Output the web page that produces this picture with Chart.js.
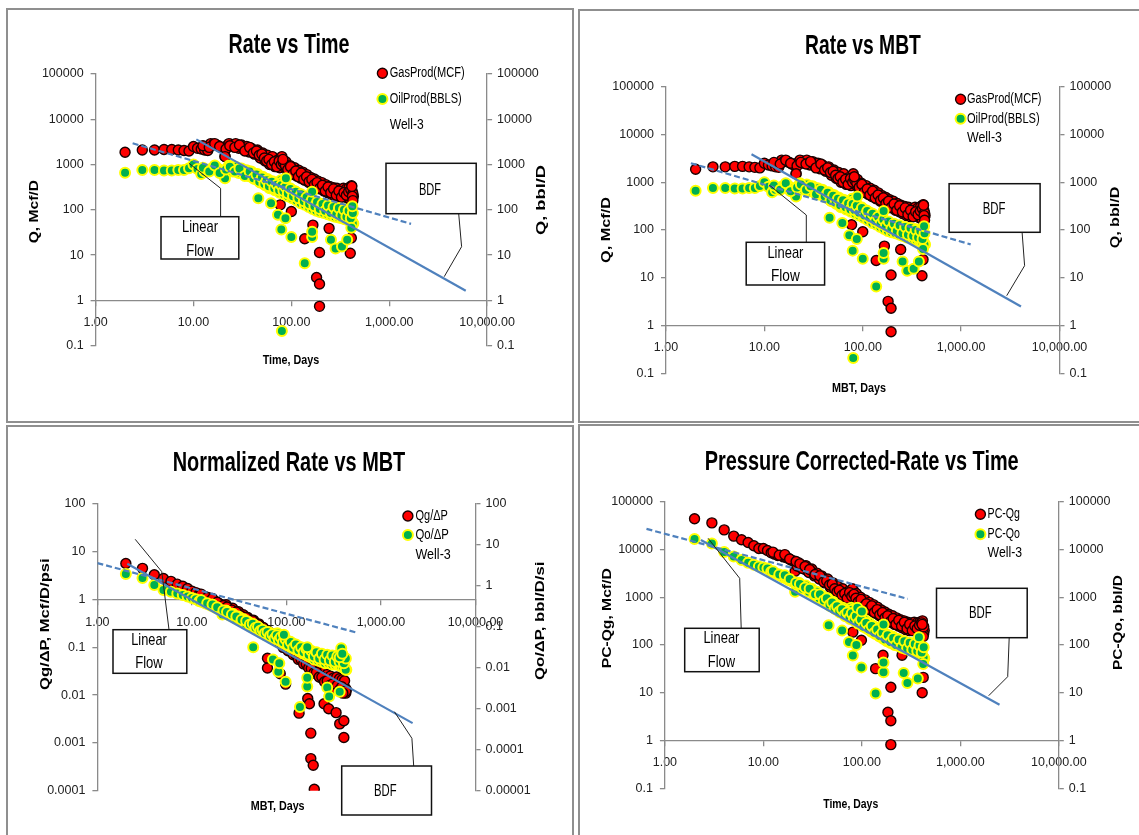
<!DOCTYPE html>
<html>
<head>
<meta charset="utf-8">
<title>Well-3 rate plots</title>
<script src="https://cdn.jsdelivr.net/npm/chart.js@4.4.1/dist/chart.umd.min.js"></script>
<style>
  html, body { margin: 0; padding: 0; background: #fff; }
  body { position: relative; width: 1139px; height: 835px; overflow: hidden; }
  canvas { position: absolute; }
  .frame { position: absolute; box-sizing: border-box; border: 2px solid #8f8f8f; }
</style>
</head>
<body>
<div class="frame" style="left:6px;top:8px;width:568px;height:415px"></div>
<div class="frame" style="left:578px;top:9px;width:600px;height:414px"></div>
<div class="frame" style="left:6px;top:425px;width:568px;height:420px"></div>
<div class="frame" style="left:578px;top:424px;width:600px;height:420px"></div>

<canvas id="rateTime" width="568" height="413" style="left:6px;top:9px"></canvas>
<canvas id="rateMbt" width="561" height="413" style="left:578px;top:10px"></canvas>
<canvas id="normMbt" width="568" height="409" style="left:6px;top:426px"></canvas>
<canvas id="pcTime" width="561" height="410" style="left:578px;top:425px"></canvas>

<script>
// ---------- data ----------
// days on production (also used as MBT, the two plots read the same)
const days = [2,3,4,5,6,7,8,9,10,11,12,13,14,15,16,17,18,19,20,21,22,24,26,28,30,32,34,36,38,40,
  43,46,49,52,55,58,62,66,70,74,78,82,86,90,95,100,105,110,116,122,128,134,140,147,154,161,168,
  176,184,192,200,210,220,230,240,250,262,274,286,298,310,322,334,346,358,370,382,394,406,418,430];
const days2 = [23,25,27,29,31,33,35,37,39,42,45,48,51,54,57,60,64,68,72,76,80,84,88,92,97,102,108,
  113,119,125,131,137,144,151,158,165,172,180,188,196,205,215,225,235,245,256,268,280,292,304,316,
  328,340,352,364,376,388,400,412,424];
const days3 = [12.5,14.5,16.5,18.5,21.5,23.5,26.5,29.5,33.5,37.5,41,44,47,50,53,56,59,63,67,71,75,
  79,83,87,92,98,104,111,118,126,134,143,152,162,172,183,195,208,222,237,253,270,288,306,325,345,
  365,385,405,425];

// rate, Mcf/D and bbl/D
const gasRate = [1870,2100,2100,2150,2150,2100,2050,2000,2500,2300,2200,2100,2050,2900,2800,2700,2600,
  2400,2300,1500,2600,2800,2700,2600,2500,2400,2300,2200,2100,2000,1900,1700,1500,1300,1400,1200,1100,
  1300,1000,1100,1300,1250,1000,850,800,750,700,650,620,600,560,520,480,460,450,420,400,380,350,330,
  320,300,290,280,270,260,250,240,230,230,220,210,250,270,240,230,280,300,320,260,200];
const oilRate = [660,760,760,740,740,760,760,830,1000,800,620,700,750,800,850,900,800,750,700,500,
  800,850,800,750,700,680,650,620,600,560,520,480,450,430,400,380,350,400,320,300,450,380,300,280,
  260,250,240,230,210,200,180,170,160,155,150,140,130,125,120,115,110,105,100,95,92,90,88,85,82,80,
  78,76,90,85,75,80,70,65,60,55,50];
const gasRate2 = [2900,2500,2900,2300,2700,2100,2500,1900,2300,1700,2100,1400,1800,1200,1600,1000,
  1500,900,1250,850,1500,900,1150,700,950,620,850,560,750,500,680,450,600,400,520,350,480,320,430,290,
  400,260,360,240,330,220,310,200,300,190,280,200,300,210,290,180,310,170,340,180];
const oilRate2 = [950,700,900,650,820,600,750,550,700,480,620,400,540,350,480,300,430,270,380,240,
  400,220,330,200,300,180,260,160,230,140,200,130,180,115,160,105,150,95,140,90,130,85,120,80,115,
  75,110,70,105,68,100,65,105,62,100,60,95,55,90,50];
const gasRate3 = [2600,2400,2900,2500,2200,2600,2400,2700,2000,2400,1800,2000,1600,1700,1400,1200,
  1300,1000,1150,900,1200,1000,1100,950,780,900,620,720,540,650,470,540,420,470,360,400,300,350,260,
  320,240,290,210,260,190,240,210,250,280,230];
const oilRate3 = [850,700,950,650,780,900,700,820,560,700,500,600,420,520,370,450,330,420,300,360,
  270,350,260,320,230,290,200,250,180,220,155,190,135,165,120,150,105,135,95,125,85,115,80,110,75,
  100,70,95,65,85];
const gasOutDays = [21,77,82,100,137,166,194,181,194,194,243,400,410,420,415,425];
const gasOutRate = [1500,129,1300,92,23,46,11.4,3.2,2.3,0.74,39,11,24,200,330,160];
const oilOutDays = [46,62,73,87,79,100,137,163,163,163,254,283,329,372,80,420,88,410];
const oilOutRate = [180,140,78,65,37,25,6.6,250,25,33,22,14,15.5,22,0.21,120,500,40];

// normalized rate, Mcf/D/psi (left) and bbl/D/psi (right)
const normGas = [5.7,4.5,3.3,2.75,2.4,2.1,1.9,1.7,1.5,1.4,1.3,1.2,1.15,1.1,1.0,0.95,0.9,0.85,0.8,0.6,
  0.72,0.66,0.6,0.56,0.52,0.49,0.46,0.43,0.4,0.38,0.35,0.32,0.29,0.26,0.24,0.22,0.2,0.19,0.17,0.16,
  0.17,0.15,0.14,0.13,0.125,0.12,0.11,0.1,0.09,0.082,0.075,0.07,0.065,0.06,0.055,0.05,0.046,0.042,
  0.039,0.036,0.034,0.031,0.029,0.027,0.025,0.024,0.022,0.021,0.02,0.019,0.018,0.017,0.02,0.019,
  0.017,0.016,0.018,0.017,0.015,0.014,0.013];
const normOil = [1.96,1.57,1.05,0.8,0.72,0.65,0.6,0.55,0.51,0.47,0.42,0.4,0.37,0.35,0.33,0.31,0.29,
  0.27,0.26,0.2,0.23,0.21,0.2,0.19,0.175,0.16,0.15,0.14,0.13,0.12,0.11,0.1,0.09,0.085,0.08,0.075,0.07,
  0.072,0.06,0.055,0.06,0.052,0.048,0.045,0.043,0.041,0.038,0.036,0.034,0.032,0.03,0.028,0.026,0.025,
  0.024,0.023,0.022,0.021,0.019,0.018,0.0175,0.017,0.016,0.016,0.015,0.015,0.014,0.014,0.014,0.014,
  0.013,0.013,0.018,0.016,0.013,0.015,0.012,0.011,0.01,0.0095,0.009];
const normGas2 = [0.78,0.6,0.66,0.5,0.56,0.44,0.48,0.38,0.42,0.33,0.37,0.28,0.31,0.23,0.26,0.2,0.22,
  0.16,0.19,0.14,0.18,0.13,0.15,0.11,0.13,0.095,0.11,0.08,0.095,0.068,0.08,0.058,0.068,0.05,0.058,
  0.042,0.05,0.036,0.044,0.031,0.04,0.027,0.034,0.023,0.03,0.02,0.027,0.018,0.025,0.016,0.023,0.015,
  0.024,0.014,0.022,0.013,0.021,0.012,0.02,0.011];
const normOil2 = [0.25,0.19,0.21,0.16,0.18,0.14,0.155,0.12,0.135,0.1,0.115,0.085,0.095,0.072,0.08,
  0.062,0.075,0.055,0.066,0.05,0.07,0.046,0.058,0.04,0.05,0.035,0.044,0.031,0.038,0.028,0.034,0.025,
  0.031,0.022,0.028,0.02,0.026,0.018,0.024,0.016,0.022,0.015,0.021,0.014,0.02,0.013,0.019,0.013,0.019,
  0.012,0.018,0.012,0.02,0.012,0.019,0.011,0.017,0.01,0.016,0.009];
const normGas3 = [1.3,1.1,1.05,0.88,0.75,0.7,0.6,0.55,0.45,0.42,0.35,0.36,0.3,0.3,0.25,0.24,0.21,0.19,
  0.17,0.15,0.15,0.14,0.13,0.12,0.1,0.1,0.085,0.085,0.07,0.07,0.056,0.056,0.045,0.045,0.037,0.036,
  0.029,0.03,0.024,0.024,0.019,0.02,0.016,0.017,0.014,0.016,0.013,0.015,0.012,0.012];
const normOil3 = [0.45,0.38,0.35,0.3,0.25,0.23,0.2,0.18,0.15,0.14,0.115,0.12,0.095,0.1,0.08,0.085,0.07,
  0.075,0.06,0.066,0.052,0.062,0.048,0.056,0.042,0.05,0.036,0.043,0.031,0.037,0.027,0.032,0.024,0.029,
  0.021,0.026,0.019,0.024,0.017,0.022,0.016,0.021,0.015,0.02,0.014,0.019,0.014,0.018,0.013,0.017];
const normGasOutDays = [63,63,86,98,136,181,181,192,197,168,175,250,280,335,366,405,405,395];
const normGasOut = [0.059,0.037,0.028,0.017,0.0042,0.0016,0.00047,0.00034,0.000107,0.0085,0.0066,
  0.0066,0.0052,0.0043,0.0025,0.0029,0.0013,0.011];
const normOilOutDays = [44.5,72,82,84,98,139,166,166,166,270,283,366,366,94,380,390];
const normOilOut = [0.032,0.016,0.008,0.013,0.0046,0.0011,0.032,0.0035,0.0057,0.0033,0.002,0.018,
  0.0026,0.064,0.03,0.022];

// pressure corrected rate
const pcGas = [44000,36000,25700,19000,16000,14000,12000,10500,10500,9500,8500,8000,7500,7500,7000,
  6800,6500,6000,5800,3500,4500,4200,3900,3600,3300,3100,2900,2700,2500,2300,2100,1900,1700,1500,1500,
  1300,1200,1300,1000,1100,1300,1400,1100,950,900,850,780,700,650,620,580,540,500,470,450,420,400,380,
  350,330,320,300,290,280,270,260,250,240,240,230,220,210,250,260,240,230,270,290,280,250,200];
const pcOil = [16500,13300,8900,7100,6000,5300,4800,4400,4200,4000,3400,3200,3000,2800,2600,2500,2300,
  2200,2100,1300,1800,1700,1600,1500,1350,1250,1150,1050,1000,930,850,780,700,650,600,560,520,560,450,
  420,600,520,400,360,340,310,290,270,250,235,220,205,190,180,170,160,150,140,130,125,118,110,105,100,
  97,93,90,87,84,82,80,78,92,88,76,80,72,66,62,56,52];
const pcGas2 = [5200,4000,4600,3300,3900,2800,3200,2400,2800,2000,2400,1600,2000,1350,1700,1100,1500,
  950,1300,850,1500,950,1200,750,1000,650,880,580,780,520,700,460,620,410,540,360,490,330,440,300,410,
  270,370,250,340,230,320,210,300,200,290,210,300,220,290,190,300,180,320,170];
const pcOil2 = [2000,1500,1750,1300,1500,1100,1300,950,1100,800,950,650,800,560,680,480,600,400,520,
  350,550,320,450,280,380,250,330,220,290,190,250,170,220,150,195,135,175,120,160,110,150,100,135,95,
  125,88,118,82,110,78,105,75,110,72,100,68,95,62,88,55];
const pcGas3 = [8800,7600,7800,6300,5600,5000,4400,3800,3000,2800,2100,2200,1800,1900,1500,1300,1400,
  1100,1200,950,1250,1050,1150,950,800,900,640,730,560,660,480,550,430,480,370,410,310,360,270,330,
  250,300,220,270,200,250,220,260,290,240];
const pcOil3 = [3500,3000,2900,2400,2000,1900,1600,1500,1150,1150,850,950,700,780,580,650,500,560,430,
  480,370,460,340,400,290,340,240,290,210,250,180,210,155,180,130,160,115,140,100,130,90,120,85,112,
  80,105,75,98,70,90];
const pcGasOutDays = [81,99,138,164,197,184,197,197,410,420,256,420,410];
const pcGasOut = [186,126,32,61,13,3.9,2.6,0.82,10,21,61,150,270];
const pcOilOutDays = [46,63,74,88,81,99,138,166,166,166,266,290,370,380,420,90,100];
const pcOilOut = [260,200,115,100,60,34,9.6,270,27,43,26,16,20,145,40,600,500];

// hand-drawn trend lines (linear flow = dashed, BDF = solid)
const rtLinX = [2.39, 1671], rtLinY = [2950, 49];
const rtBdfX = [10.7, 6050], rtBdfY = [3600, 1.63];
const mbtLinX = [1.79, 1250], mbtLinY = [2500, 50];
const mbtBdfX = [7.4, 4060], mbtBdfY = [3860, 2.5];
const normLinX = [1, 572], normLinY = [5.8, 0.2];
const normBdfX = [2.07, 2160], normBdfY = [5.6, 0.0026];
const pcLinX = [0.65, 292], pcLinY = [27000, 925];
const pcBdfX = [2.32, 2500], pcBdfY = [15800, 5.6];

// ticks
const xTicks = [1, 10, 100, 1000, 10000];
const xTickLabels = ['1.00', '10.00', '100.00', '1,000.00', '10,000.00'];
const rateTicks = [0.1, 1, 10, 100, 1000, 10000, 100000];
const rateTickLabels = ['0.1', '1', '10', '100', '1000', '10000', '100000'];
const normTicks = [0.0001, 0.001, 0.01, 0.1, 1, 10, 100];
const normTickLabels = ['0.0001', '0.001', '0.01', '0.1', '1', '10', '100'];
const normOilTicks = [0.00001, 0.0001, 0.001, 0.01, 0.1, 1, 10, 100];
const normOilTickLabels = ['0.00001', '0.0001', '0.001', '0.01', '0.1', '1', '10', '100'];

// ---------- styling ----------
const AXIS = '#8a8a8a';
const TEXT_FONT = '"Liberation Sans", Arial, sans-serif';

const tickFont = (() => {
  const c = document.createElement('canvas').getContext('2d');
  c.font = '40px "Liberation Sans Narrow", monospace';
  const a = c.measureText('100000').width;
  c.font = '40px monospace';
  const b = c.measureText('100000').width;
  return Math.abs(a - b) > 0.5
    ? { family: '"Liberation Sans Narrow"', size: 14.5 }
    : { family: '"Liberation Sans", Arial, sans-serif', size: 12.5 };
})();

const gasStyle = { backgroundColor: '#ff0000', borderColor: '#1a0000', borderWidth: 1.4, pointRadius: 5 };
const oilStyle = { backgroundColor: '#00b050', borderColor: '#ffff00', borderWidth: 2, pointRadius: 5 };

const pts = (xs, ys) => xs.map((x, i) => ({ x, y: ys[i] }));

const scatterSet = (style, axis, order, ...parts) => ({
  data: parts.flat(),
  ...style,
  pointHoverRadius: style.pointRadius,
  yAxisID: axis,
  order
});

const trendSet = (xs, ys, dashed, extra = {}) => ({
  data: pts(xs, ys),
  showLine: true,
  pointRadius: 0,
  borderColor: '#4f81bd',
  borderWidth: 2.2,
  borderDash: dashed ? [6, 3] : [],
  yAxisID: 'y',
  order: 0,
  ...extra
});

function squeezedText(ctx, str, x, y, size, width, o = {}) {
  ctx.save();
  ctx.font = (o.bold ? 'bold ' : '') + size + 'px ' + TEXT_FONT;
  ctx.textAlign = o.align || 'center';
  ctx.textBaseline = o.baseline || 'alphabetic';
  ctx.fillStyle = '#000';
  const natural = ctx.measureText(str).width;
  ctx.translate(x, y);
  if (o.rotate) ctx.rotate(-Math.PI / 2);
  ctx.scale(width / natural, 1);
  ctx.fillText(str, 0, 0);
  ctx.restore();
}

function marker(ctx, x, y, style) {
  ctx.beginPath();
  ctx.arc(x, y, style.pointRadius, 0, Math.PI * 2);
  ctx.fillStyle = style.backgroundColor;
  ctx.fill();
  ctx.lineWidth = style.borderWidth;
  ctx.strokeStyle = style.borderColor;
  ctx.stroke();
}

// titles, legend and callout boxes; spec positions are page pixels
function decorations(d) {
  return {
    id: 'decorations',
    afterDraw(chart) {
      const ctx = chart.ctx;
      ctx.save();
      ctx.translate(-d.origin[0], -d.origin[1]);

      const [t, tx, ty, tw] = d.title;
      squeezedText(ctx, t, tx, ty, 28, tw, { bold: true });
      const [xt, xx, xy, xw] = d.xTitle;
      squeezedText(ctx, xt, xx, xy, 12, xw, { bold: true });
      d.yTitles.forEach(([s, x, y, w]) => squeezedText(ctx, s, x, y, 12, w, { bold: true, rotate: true }));

      const lg = d.legend;
      lg.rows.forEach(([s, y, w], i) => {
        if (lg.markers[i]) marker(ctx, lg.mx, y, lg.markers[i]);
        squeezedText(ctx, s, lg.tx, y, 14, w, { align: 'left', baseline: 'middle' });
      });

      d.boxes.forEach(b => {
        ctx.beginPath();
        b.leader.forEach(([x, y], i) => (i ? ctx.lineTo(x, y) : ctx.moveTo(x, y)));
        ctx.lineWidth = 1;
        ctx.strokeStyle = '#222';
        ctx.stroke();
        const [x1, y1, x2, y2] = b.rect;
        ctx.fillStyle = '#fff';
        ctx.fillRect(x1, y1, x2 - x1, y2 - y1);
        ctx.lineWidth = 1.5;
        ctx.strokeStyle = '#111';
        ctx.strokeRect(x1, y1, x2 - x1, y2 - y1);
        b.text.forEach(([s, x, y, w]) => squeezedText(ctx, s, x, y, 17, w, { baseline: 'middle' }));
      });
      ctx.restore();
    }
  };
}

function logY(position, ticks, labels, width, pad) {
  return {
    type: 'logarithmic',
    position,
    min: ticks[0],
    max: ticks[ticks.length - 1],
    afterBuildTicks: s => { s.ticks = ticks.map(v => ({ value: v })); },
    afterFit: s => { s.width = width; },
    ticks: { autoSkip: false, padding: pad, color: '#222', font: tickFont, callback: (v, i) => labels[i] },
    grid: { drawOnChartArea: false, tickLength: 5, color: AXIS, lineWidth: 1.3 },
    border: { color: AXIS, width: 1.3 }
  };
}

function logX() {
  return {
    type: 'logarithmic',
    position: { y: 1 },
    min: xTicks[0],
    max: xTicks[xTicks.length - 1],
    afterBuildTicks: s => { s.ticks = xTicks.map(v => ({ value: v })); },
    ticks: { autoSkip: false, maxRotation: 0, padding: 10, color: '#222', font: tickFont,
      callback: (v, i) => xTickLabels[i] },
    grid: { drawOnChartArea: false, tickLength: 5, color: AXIS, lineWidth: 1.3 },
    border: { color: AXIS, width: 1.3 }
  };
}

// plot = [left, right, top, bottom] of the plot area in page pixels
function drawPanel(id, plot, left, right, datasets, decor) {
  const canvas = document.getElementById(id);
  const [ox, oy] = decor.origin;
  const [pl, pr, pt, pb] = plot;
  return new Chart(canvas, {
    type: 'scatter',
    data: { datasets },
    options: {
      responsive: false,
      animation: false,
      events: [],
      layout: { padding: { left: 0, right: 0, top: pt - oy, bottom: oy + canvas.height - pb } },
      scales: {
        x: logX(),
        y: logY('left', left.ticks, left.labels, pl - ox, 7),
        y2: logY('right', right.ticks, right.labels, ox + canvas.width - pr, 5)
      },
      plugins: { legend: { display: false }, tooltip: { enabled: false } }
    },
    plugins: [decorations(decor)]
  });
}

const rateAxis = { ticks: rateTicks, labels: rateTickLabels };

// Rate vs Time
drawPanel('rateTime', [95.6, 487.1, 74, 345.7], rateAxis, rateAxis, [
  trendSet(rtBdfX, rtBdfY, false),
  trendSet(rtLinX, rtLinY, true),
  scatterSet(oilStyle, 'y2', 1, pts(days, oilRate), pts(days2, oilRate2), pts(days3, oilRate3),
    pts(oilOutDays, oilOutRate)),
  scatterSet(gasStyle, 'y', 2, pts(days, gasRate), pts(days2, gasRate2), pts(days3, gasRate3),
    pts(gasOutDays, gasOutRate))
], {
  origin: [6, 9],
  title: ['Rate vs Time', 289, 53.3, 121],
  xTitle: ['Time, Days', 291, 364.3, 56.7],
  yTitles: [['Q, Mcf/D', 38, 211.7, 63.3], ['Q, bbl/D', 545, 200, 70]],
  legend: { mx: 382.4, tx: 389.7, markers: [gasStyle, oilStyle, null],
    rows: [['GasProd(MCF)', 73.3, 75], ['OilProd(BBLS)', 99, 72], ['Well-3', 125, 34]] },
  boxes: [
    { rect: [161, 216.7, 238.8, 259], text: [['Linear', 200, 227, 36], ['Flow', 200, 251, 27.6]],
      leader: [[220.6, 216.7], [220.6, 188.3], [189, 163.3]] },
    { rect: [386, 163.3, 476.2, 213.7], text: [['BDF', 430, 190, 22]],
      leader: [[458.7, 213.7], [461.6, 246.7], [444.2, 276.7]] }
  ]
});

// Rate vs MBT
drawPanel('rateMbt', [666, 1059.5, 86.7, 373.3], rateAxis, rateAxis, [
  trendSet(mbtBdfX, mbtBdfY, false),
  trendSet(mbtLinX, mbtLinY, true),
  scatterSet(oilStyle, 'y2', 1, pts(days, oilRate), pts(days2, oilRate2), pts(days3, oilRate3),
    pts(oilOutDays, oilOutRate)),
  scatterSet(gasStyle, 'y', 2, pts(days, gasRate), pts(days2, gasRate2), pts(days3, gasRate3),
    pts(gasOutDays, gasOutRate))
], {
  origin: [578, 10],
  title: ['Rate vs MBT', 863, 54, 115.8],
  xTitle: ['MBT, Days', 859, 392.3, 54],
  yTitles: [['Q, Mcf/D', 610, 230, 66], ['Q, bbl/D', 1119, 217.5, 61.7]],
  legend: { mx: 960.6, tx: 967, markers: [gasStyle, oilStyle, null],
    rows: [['GasProd(MCF)', 99.3, 74.5], ['OilProd(BBLS)', 118.7, 72.7], ['Well-3', 137.7, 34.9]] },
  boxes: [
    { rect: [746.2, 242.3, 824.6, 285], text: [['Linear', 785.4, 253.3, 36], ['Flow', 785.4, 276.7, 28.8]],
      leader: [[806.3, 242.3], [806.3, 215], [769.2, 185]] },
    { rect: [949.1, 183.7, 1040.1, 232.3], text: [['BDF', 994, 209, 22.7]],
      leader: [[1022.1, 232.3], [1024.6, 265.7], [1006.7, 295.7]] }
  ]
});

// Normalized Rate vs MBT
drawPanel('normMbt', [97.4, 475.5, 504, 790.7],
  { ticks: normTicks, labels: normTickLabels }, { ticks: normOilTicks, labels: normOilTickLabels }, [
  trendSet(normBdfX, normBdfY, false),
  trendSet(normLinX, normLinY, true),
  scatterSet(oilStyle, 'y2', 1, pts(days, normOil), pts(days2, normOil2), pts(days3, normOil3),
    pts(normOilOutDays, normOilOut)),
  scatterSet(gasStyle, 'y', 2, pts(days, normGas), pts(days2, normGas2), pts(days3, normGas3),
    pts(normGasOutDays, normGasOut))
], {
  origin: [6, 426],
  title: ['Normalized Rate vs MBT', 289, 471, 232.6],
  xTitle: ['MBT, Days', 277.7, 810, 53.8],
  yTitles: [['Qg/ΔP, Mcf/D/psi', 48.5, 624.2, 131.7], ['Qo/ΔP, bbl/D/si', 544, 620.8, 118.3]],
  legend: { mx: 407.9, tx: 415.5, markers: [gasStyle, oilStyle, null],
    rows: [['Qg/ΔP', 516, 32.4], ['Qo/ΔP', 535, 33.4], ['Well-3', 555, 35.3]] },
  boxes: [
    { rect: [113, 629.7, 186.8, 673.3], text: [['Linear', 149, 640, 35.6], ['Flow', 149, 663.3, 27.6]],
      leader: [[169, 629.7], [161.8, 571.7], [135.2, 539.3]] },
    { rect: [341.7, 766, 431.5, 815], text: [['BDF', 385.3, 791.7, 22.5]],
      leader: [[413.7, 766], [411.9, 738.3], [394.4, 711.7]] }
  ]
});

// Pressure Corrected-Rate vs Time
drawPanel('pcTime', [664.9, 1058.8, 501.7, 788.3], rateAxis, rateAxis, [
  trendSet(pcBdfX, pcBdfY, false),
  trendSet(pcLinX, pcLinY, true, { clip: false }),
  scatterSet(oilStyle, 'y2', 1, pts(days, pcOil), pts(days2, pcOil2), pts(days3, pcOil3),
    pts(pcOilOutDays, pcOilOut)),
  scatterSet(gasStyle, 'y', 2, pts(days, pcGas), pts(days2, pcGas2), pts(days3, pcGas3),
    pts(pcGasOutDays, pcGasOut))
], {
  origin: [578, 425],
  title: ['Pressure Corrected-Rate vs Time', 861.7, 470, 314],
  xTitle: ['Time, Days', 850.7, 808.3, 55],
  yTitles: [['PC-Qg, Mcf/D', 611, 618.3, 100], ['PC-Qo, bbl/D', 1122, 622.5, 95]],
  legend: { mx: 980.4, tx: 987.6, markers: [gasStyle, oilStyle, null],
    rows: [['PC-Qg', 514.3, 32.4], ['PC-Qo', 534.3, 32.4], ['Well-3', 553.3, 34.5]] },
  boxes: [
    { rect: [684.7, 628.3, 759.2, 671.7], text: [['Linear', 721.4, 638.3, 36], ['Flow', 721.4, 662.7, 27.3]],
      leader: [[741.2, 628.3], [739.7, 578.3], [708.1, 538.3]] },
    { rect: [936.5, 588.3, 1027.2, 637.7], text: [['BDF', 980.4, 613.3, 22.7]],
      leader: [[1009.2, 637.7], [1007.7, 676.7], [988.7, 695.7]] }
  ]
});
</script>
</body>
</html>
